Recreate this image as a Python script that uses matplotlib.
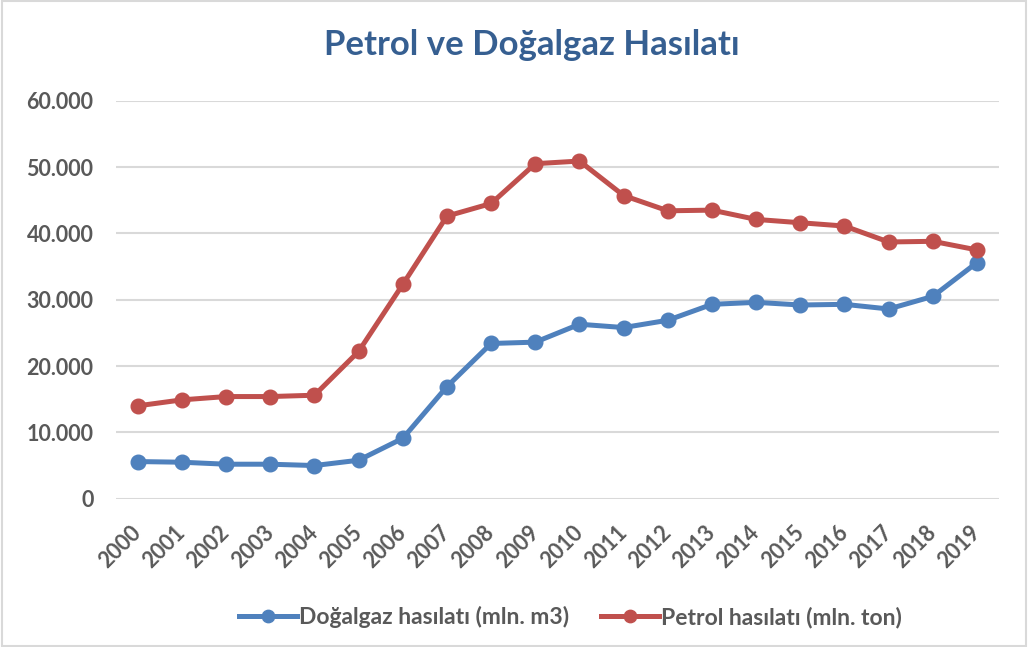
import matplotlib
matplotlib.use("Agg")
import matplotlib.pyplot as plt
from matplotlib.patches import Rectangle
from matplotlib.ticker import FuncFormatter

years = [str(y) for y in range(2000, 2020)]
gas = [5600, 5500, 5200, 5200, 5000, 5800, 9100, 16900, 23400, 23600,
       26300, 25800, 26900, 29300, 29600, 29200, 29300, 28600, 30500, 35600]
oil = [14000, 14900, 15400, 15400, 15600, 22200, 32300, 42600, 44500, 50500,
       50900, 45700, 43400, 43500, 42100, 41600, 41100, 38700, 38800, 37500]
yticks = [0, 10000, 20000, 30000, 40000, 50000, 60000]

plt.rcParams['font.family'] = ['Lato', 'DejaVu Sans']
txt = '#595959'

fig = plt.figure(figsize=(10.3, 6.47), dpi=100)
fig.patches.append(Rectangle((0.0015, 0.002), 0.995, 0.996, transform=fig.transFigure,
                             fill=False, edgecolor='#D9D9D9', linewidth=1.5))
ax = fig.add_axes([0.1123, 0.2292, 0.8577, 0.6152])
x = list(range(len(years)))
ax.plot(x, gas, color='#4F81BD', lw=3.6, marker='o', ms=10.5, label='Doğalgaz hasılatı (mln. m3)', zorder=3)
ax.plot(x, oil, color='#C0504D', lw=3.6, marker='o', ms=10.5, label='Petrol hasılatı (mln. ton)', zorder=3)

ax.set_xlim(-0.5, len(years) - 0.5)
ax.set_ylim(0, 60000)
ax.set_yticks(yticks)
ax.yaxis.set_major_formatter(FuncFormatter(lambda v, p: '0' if v == 0 else f'{int(v):,}'.replace(',', '.')))
ax.set_xticks(x)
ax.set_xticklabels(years, rotation=45, ha='right', va='center', rotation_mode='anchor')
ax.grid(axis='y', color='#D9D9D9', lw=1.5)
ax.set_axisbelow(True)
for s in ax.spines.values():
    s.set_visible(False)
ax.tick_params(length=0, labelcolor=txt, labelsize=15.5)
ax.tick_params(axis='y', pad=16)
ax.tick_params(axis='x', pad=22)
for lab in ax.get_xticklabels() + ax.get_yticklabels():
    lab.set_fontweight('bold')

fig.text(0.516, 0.93, 'Petrol ve Doğalgaz Hasılatı', ha='center', va='center',
         fontsize=25, fontweight='bold', color='#365F91')

leg = fig.legend(loc='center', bbox_to_anchor=(0.554, 0.046), ncol=2, frameon=False,
                 prop={'weight': 'bold', 'size': 16.5}, handlelength=2.5, handletextpad=0.1,
                 columnspacing=1.4, markerscale=0.85)
for t in leg.get_texts():
    t.set_color(txt)

fig.savefig('out.png', dpi=100)
